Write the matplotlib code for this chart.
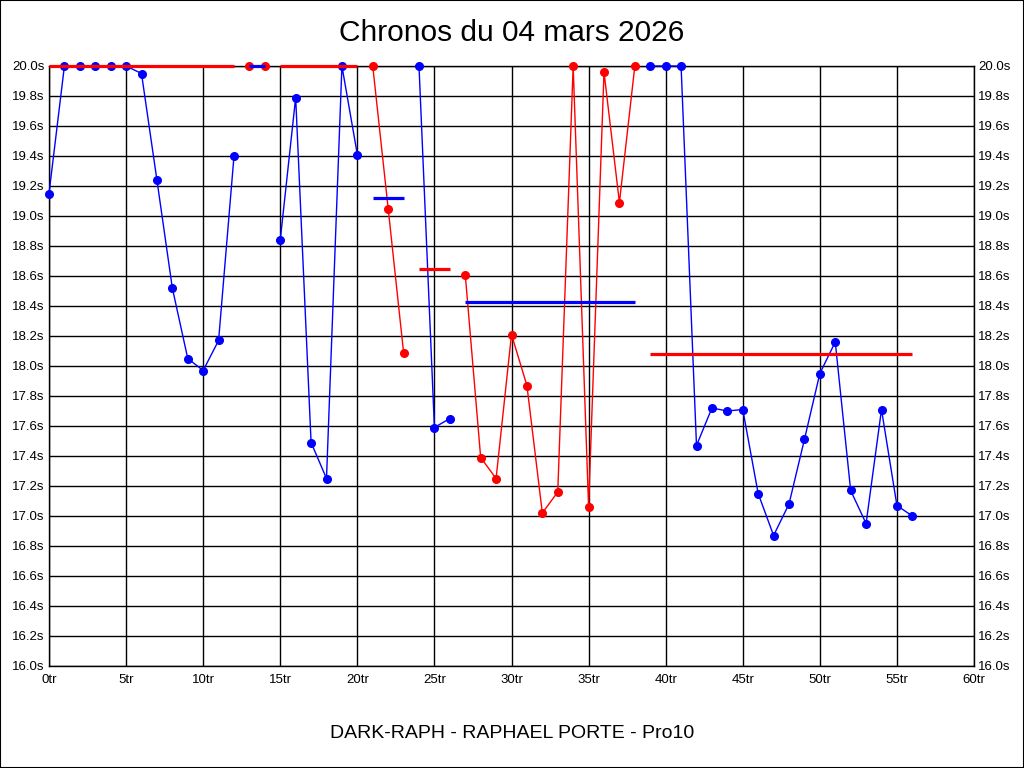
import matplotlib
matplotlib.use('Agg')
import matplotlib.pyplot as plt
from matplotlib.patches import Rectangle

plt.rcParams['font.family'] = ['Liberation Sans', 'DejaVu Sans']

# lap times (s), values above 20.0 are shown capped at 20.0
laps = list(range(57))
times = [19.15, 20.0, 20.0, 20.0, 20.0, 20.0, 19.95, 19.24, 18.52, 18.05,
         17.97, 18.17, 19.40, 20.0, 20.0, 18.84, 19.79, 17.49, 17.25, 20.0,
         19.41, 20.0, 19.05, 18.09, 20.0, 17.59, 17.65, 18.61, 17.39, 17.25,
         18.21, 17.87, 17.02, 17.16, 20.0, 17.06, 19.96, 19.09, 20.0, 20.0,
         20.0, 20.0, 17.47, 17.72, 17.70, 17.71, 17.15, 16.87, 17.08, 17.51,
         17.95, 18.16, 17.17, 16.95, 17.71, 17.07, 17.00]

# stints (first lap, last lap) and their average line
stint_start = [0, 13, 15, 21, 24, 27, 39]
stint_end = [12, 14, 20, 23, 26, 38, 56]
stint_avg = [20.0, 20.0, 20.0, 19.12, 18.65, 18.43, 18.08]

title = 'Chronos du 04 mars 2026'
footer = 'DARK-RAPH - RAPHAEL PORTE - Pro10'

x_ticks = list(range(0, 61, 5))
y_ticks = [16.0 + 0.2 * i for i in range(21)]

fig = plt.figure(figsize=(10.24, 7.68), dpi=100)
fig.patches.append(Rectangle((0, 0), 1, 1, transform=fig.transFigure,
                             fill=False, edgecolor='black', linewidth=1.5))
ax = fig.add_axes([49 / 1024, 1 - 666 / 768, 925 / 1024, 600 / 768])

blue = '#0000ff'
red = '#ff0000'
for i, (s, e, avg) in enumerate(zip(stint_start, stint_end, stint_avg)):
  c = blue if i % 2 == 0 else red
  other = red if i % 2 == 0 else blue
  xs = laps[s:e + 1]
  ys = times[s:e + 1]
  ax.plot(xs, ys, color=c, lw=1.0, marker='o', ms=5.5, mec=c, mfc=c,
          zorder=3, clip_on=False)
  ax.plot([s, e], [avg, avg], color=other, lw=2.3, zorder=4,
          solid_capstyle='butt', clip_on=False)

ax.set_xlim(0, 60)
ax.set_ylim(16.0, 20.0)
ax.set_xticks(x_ticks)
ax.set_xticklabels(['%dtr' % v for v in x_ticks])
ax.set_yticks(y_ticks)
ax.set_yticklabels(['%.1fs' % v for v in y_ticks])
ax.tick_params(axis='both', length=0, labelsize=9.5, colors='black')
ax.tick_params(axis='y', pad=3, labelright=True, right=True)
ax.tick_params(axis='x', pad=6)
ax.grid(True, color='black', lw=1)
ax.set_axisbelow(True)
for sp in ax.spines.values():
  sp.set_color('black')
  sp.set_linewidth(1)

fig.text(0.5, 1 - 33 / 768, title, ha='center', va='center', fontsize=21.5)
fig.text(0.5, 1 - 733 / 768, footer, ha='center', va='center', fontsize=14)

fig.savefig('out.png', dpi=100)
